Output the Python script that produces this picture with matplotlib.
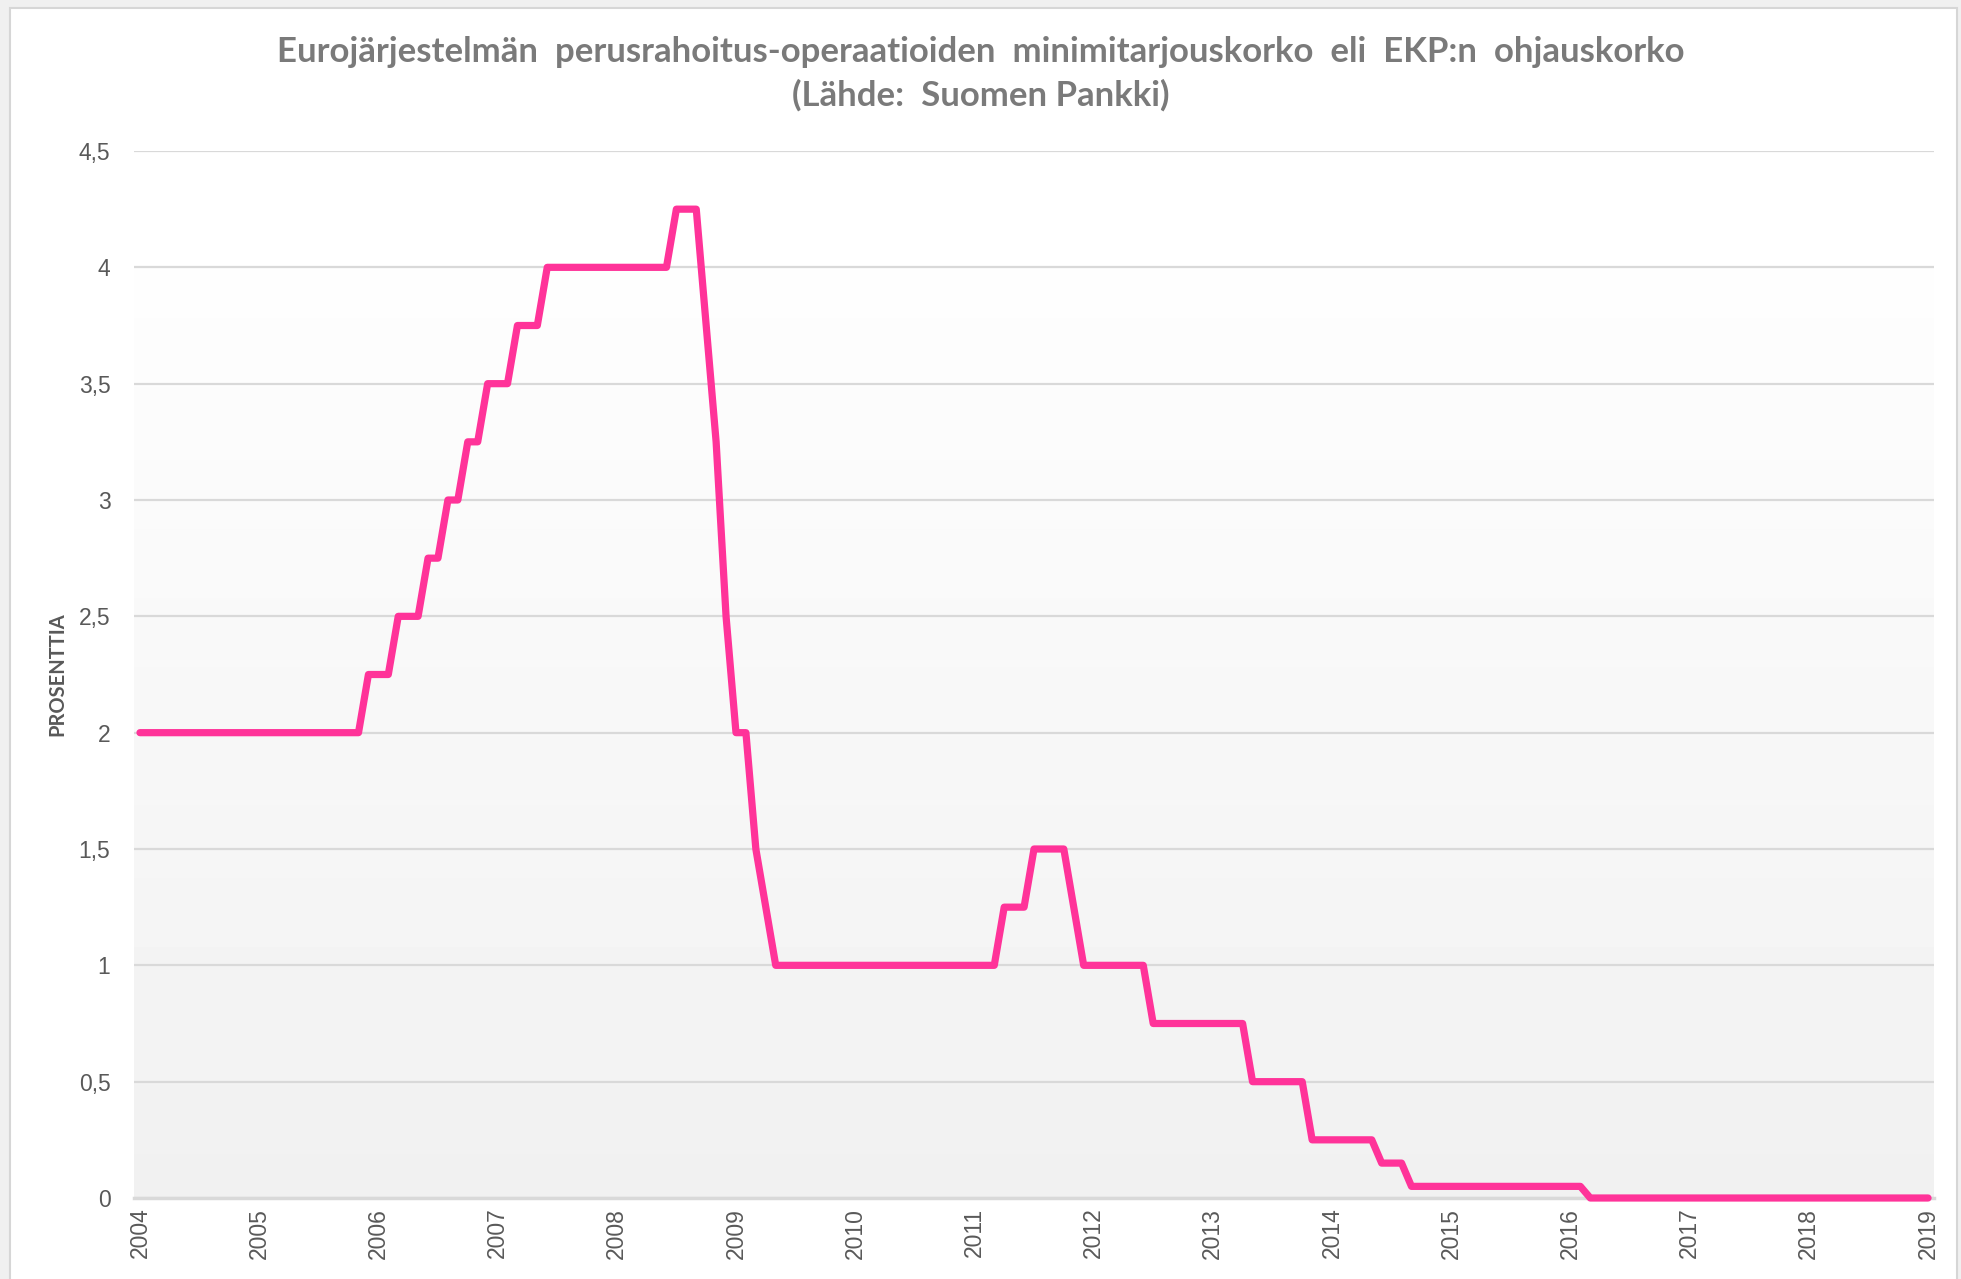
import numpy as np
import matplotlib
matplotlib.use("Agg")
import matplotlib.pyplot as plt
from matplotlib.patches import Rectangle

# rate change points (month, rate %)
months = ["2004-01", "2005-11", "2005-12", "2006-02", "2006-03", "2006-05", "2006-06",
          "2006-07", "2006-08", "2006-09", "2006-10", "2006-11", "2006-12", "2007-02",
          "2007-03", "2007-05", "2007-06", "2008-06", "2008-07", "2008-09", "2008-10",
          "2008-11", "2008-12", "2009-01", "2009-02", "2009-03", "2009-04", "2009-05",
          "2011-03", "2011-04", "2011-06", "2011-07", "2011-10", "2011-11", "2011-12",
          "2012-06", "2012-07", "2013-04", "2013-05", "2013-10", "2013-11", "2014-05",
          "2014-06", "2014-08", "2014-09", "2016-02", "2016-03", "2019-01"]
rates = [2, 2, 2.25, 2.25, 2.5, 2.5, 2.75, 2.75, 3, 3, 3.25, 3.25, 3.5, 3.5, 3.75, 3.75,
         4, 4, 4.25, 4.25, 3.75, 3.25, 2.5, 2, 2, 1.5, 1.25, 1, 1, 1.25, 1.25, 1.5, 1.5,
         1.25, 1, 1, 0.75, 0.75, 0.5, 0.5, 0.25, 0.25, 0.15, 0.15, 0.05, 0.05, 0, 0]
years = list(range(2004, 2020))
yticks = [0, 0.5, 1, 1.5, 2, 2.5, 3, 3.5, 4, 4.5]
ylabels = ["0", "0,5", "1", "1,5", "2", "2,5", "3", "3,5", "4", "4,5"]

title = ("Eurojärjestelmän  perusrahoitus-operaatioiden  minimitarjouskorko  eli  EKP:n  ohjauskorko\n"
         "(Lähde:  Suomen Pankki)")

x = [int(m[:4]) + (int(m[5:]) - 1) / 12 for m in months]

W, H = 1961, 1279
fig = plt.figure(figsize=(W / 100, H / 100), dpi=100)
fig.patch.set_facecolor("#F0F0F0")
fig.patches.append(Rectangle((10 / W, -0.02), (1957 - 10) / W, 1.02 - 8 / H,
                             transform=fig.transFigure, facecolor="white",
                             edgecolor="#D6D6D6", lw=1.5, zorder=-5))

ax = fig.add_axes([134 / W, (H - 1198) / H, (1934 - 134) / W, (1198 - 151) / H])
ax.set_facecolor("white")
xmin, xmax = 2004 - 0.05, 2019 + 0.05
ax.set_xlim(xmin, xmax)
ax.set_ylim(0, 4.5)

# gradient fill below 4
grad = np.linspace(0.943, 0.995, 256)[::-1].reshape(-1, 1)
ax.imshow(grad, extent=[xmin, xmax, 0, 4], aspect="auto", cmap="gray",
          vmin=0, vmax=1, zorder=0, origin="upper")

ax.set_yticks(yticks)
ax.set_yticklabels(ylabels)
ax.set_xticks(years)
ax.set_xticklabels([str(y) for y in years], rotation=90)
ax.grid(axis="y", color="#D9D9D9", lw=1.6, zorder=1)
ax.axhline(0, color="#D9D9D9", lw=2.5, zorder=1.5, clip_on=False)
ax.tick_params(length=0, colors="#595959", labelsize=16.5)
ax.tick_params(axis="y", pad=17)
ax.tick_params(axis="x", pad=7)
for lab in ax.get_xticklabels() + ax.get_yticklabels():
    lab.set_family("Liberation Sans")
for s in ax.spines.values():
    s.set_visible(False)

ax.plot(x, rates, color="#FF3399", lw=5.2, solid_joinstyle="round",
        solid_capstyle="round", clip_on=False, zorder=3)

ax.set_ylabel("PROSENTTIA", family="Lato", weight="bold",
              fontsize=14.5, color="#595959")
ax.yaxis.set_label_coords(-0.037, 0.5)

fig.text(0.5, 1 - 74 / H, title, ha="center", va="center", family="Lato",
         weight="bold", fontsize=25, color="#7A7A7A", linespacing=1.42)

fig.savefig("out.png", dpi=100, facecolor=fig.get_facecolor())
